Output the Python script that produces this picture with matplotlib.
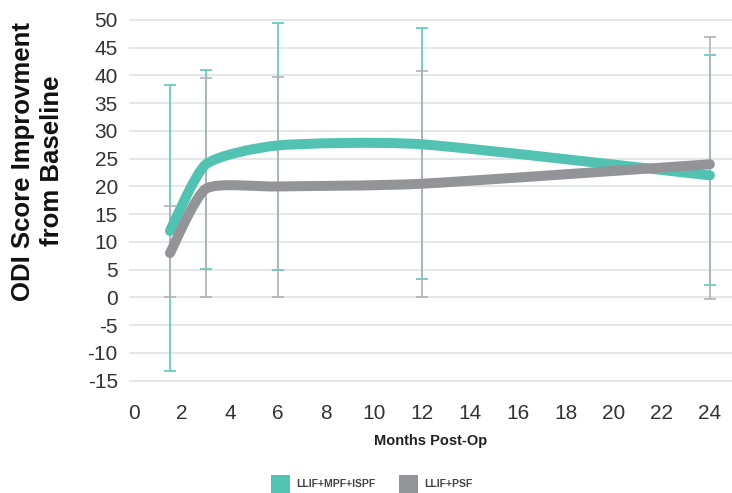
import matplotlib
matplotlib.use('Agg')
import matplotlib.pyplot as plt
from matplotlib.path import Path
from matplotlib.patches import PathPatch, Patch

plt.rcParams['axes.unicode_minus'] = False

# months post-op where both groups were measured
months = [1.5, 3, 6, 12, 24]

# mean ODI improvement
llif_mpf_ispf = [12, 24, 27.4, 27.6, 22]
llif_psf = [8, 19.6, 20, 20.5, 24]

# error bar ends (low, high)
llif_mpf_ispf_low = [-13.2, 5.1, 5, 3.3, 2.2]
llif_mpf_ispf_high = [38.3, 41, 49.5, 48.5, 43.7]
llif_psf_low = [0, 0, 0, 0, -0.2]
llif_psf_high = [16.4, 39.5, 39.8, 40.8, 47]

series_names = ['LLIF+MPF+ISPF', 'LLIF+PSF']
x_ticks = list(range(0, 25, 2))
y_ticks = list(range(-15, 51, 5))

teal = '#52c2b3'
grey = '#939497'
teal_err = '#5cc8b9'
grey_err = '#b2b2b5'


def smooth_path(xs, ys, k=0.1):
    # lightly smoothed line: cubic beziers through every point
    pts = list(zip(xs, ys))
    verts = [pts[0]]
    codes = [Path.MOVETO]
    n = len(pts)
    for i in range(n - 1):
        p0 = pts[max(i - 1, 0)]
        p1 = pts[i]
        p2 = pts[i + 1]
        p3 = pts[min(i + 2, n - 1)]
        c1 = (p1[0] + (p2[0] - p0[0]) * k, p1[1] + (p2[1] - p0[1]) * k)
        c2 = (p2[0] - (p3[0] - p1[0]) * k, p2[1] - (p3[1] - p1[1]) * k)
        verts += [c1, c2, p2]
        codes += [Path.CURVE4] * 3
    return Path(verts, codes)


fig = plt.figure(figsize=(7.32, 4.93), dpi=100)
ax = fig.add_axes([0.1762, 0.2221, 0.8238, 0.743])

for mean, lo, hi, col in [(llif_mpf_ispf, llif_mpf_ispf_low, llif_mpf_ispf_high, teal_err),
                          (llif_psf, llif_psf_low, llif_psf_high, grey_err)]:
    yerr = [[m - l for m, l in zip(mean, lo)], [h - m for m, h in zip(mean, hi)]]
    ax.errorbar(months, mean, yerr=yerr, fmt='none', ecolor=col, elinewidth=1.2,
                capsize=4.5, capthick=1.2, zorder=3)

for ys, col in [(llif_mpf_ispf, teal), (llif_psf, grey)]:
    ax.add_patch(PathPatch(smooth_path(months, ys), facecolor='none', edgecolor=col,
                           lw=7.2, capstyle='round', joinstyle='round', zorder=4))

ax.set_xlim(-0.208, 24.92)
ax.set_ylim(-15.5, 50.5)
ax.set_xticks(x_ticks)
ax.set_yticks(y_ticks)
ax.grid(axis='y', color='#dfe3e5', lw=1.2)
ax.set_axisbelow(True)
for s in ax.spines.values():
    s.set_visible(False)
ax.tick_params(axis='both', length=0, labelsize=15, labelcolor='#333333')
ax.tick_params(axis='y', pad=8)
ax.tick_params(axis='x', pad=15)
for lab in ax.get_xticklabels() + ax.get_yticklabels():
    lab.set_family('Liberation Sans')

ax.set_xlabel('Months Post-Op', fontsize=10.5, fontweight='bold', family='Liberation Sans',
              color='#222222', labelpad=8)
fig.text(0.051, 0.673, 'ODI Score Improvment\nfrom Baseline', rotation=90, ha='center',
         va='center', multialignment='center', fontsize=18.5, fontweight='bold',
         family='Liberation Sans', color='#111111', linespacing=1.25)

handles = [Patch(facecolor=teal, edgecolor='none'), Patch(facecolor=grey, edgecolor='none')]
fig.legend(handles, series_names, loc='center', bbox_to_anchor=(0.508, 0.018), ncol=2,
           frameon=False, prop={'family': 'Liberation Sans', 'weight': 'bold', 'size': 7.5},
           labelcolor='#444444', handlelength=1.83, handleheight=2.4, handletextpad=0.6,
           columnspacing=2.2, borderpad=0)

fig.savefig('out.png', dpi=100)
